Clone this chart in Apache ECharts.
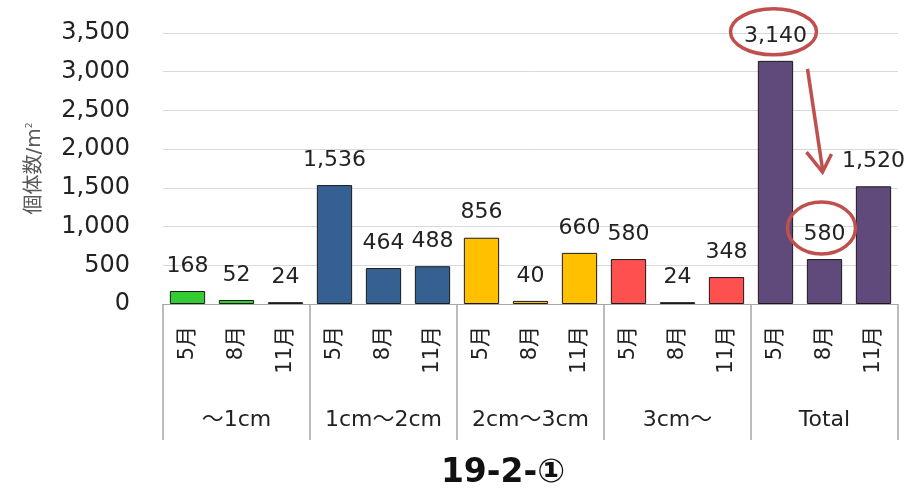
<!DOCTYPE html>
<html>
<head>
<meta charset="utf-8">
<script src="https://cdn.jsdelivr.net/npm/echarts@6/dist/echarts.min.js"></script>
<style>
  html, body { margin: 0; padding: 0; background: #fff; }
  #main { width: 911px; height: 492px; }
</style>
</head>
<body>
<div id="main"></div>
<script>
// data
var groups = ['～1cm', '1cm～2cm', '2cm～3cm', '3cm～', 'Total'];
var months = ['5月', '8月', '11月'];
var sizeA = [168, 52, 24];      // ～1cm
var sizeB = [1536, 464, 488];   // 1cm～2cm
var sizeC = [856, 40, 660];     // 2cm～3cm
var sizeD = [580, 24, 348];     // 3cm～
var total = [3140, 580, 1520];  // Total
var yTicks = [0, 500, 1000, 1500, 2000, 2500, 3000, 3500];

var colors = ['#33CC33', '#376092', '#FFC000', '#FF5050', '#604A7B'];
var font = '"DejaVu Sans", "Noto Sans CJK JP", sans-serif';

var allValues = [sizeA, sizeB, sizeC, sizeD, total];
var cats = [];
var barData = [];
for (var g = 0; g < groups.length; g++) {
    for (var m = 0; m < months.length; m++) {
        cats.push(groups[g] + '|' + months[m]);
        barData.push({
            value: allValues[g][m],
            itemStyle: { color: colors[g] }
        });
    }
}

var myChart = echarts.init(document.getElementById('main'));

var option = {
    animation: false,
    title: {
        text: '19-2-①',
        left: 498,
        textAlign: 'center',
        top: 452,
        textStyle: { fontFamily: font, fontSize: 33, fontWeight: 'bold', color: '#111' }
    },
    grid: { left: 163, right: 13, top: 33, bottom: 188 },
    xAxis: [
        {
            type: 'category',
            data: cats,
            axisLine: { lineStyle: { color: '#A6A6A6', width: 1 } },
            axisTick: { show: false },
            axisLabel: {
                rotate: 90,
                margin: 22,
                interval: 0,
                fontFamily: font,
                fontSize: 21,
                color: '#222',
                formatter: function (v) { return v.split('|')[1]; }
            }
        },
        {
            type: 'category',
            data: groups,
            position: 'bottom',
            offset: 0,
            axisLine: { show: false },
            axisTick: { show: true, length: 136, lineStyle: { color: '#A6A6A6', width: 1.5 } },
            axisLabel: {
                margin: 105,
                interval: 0,
                fontFamily: font,
                fontSize: 22,
                color: '#222'
            }
        }
    ],
    yAxis: {
        type: 'value',
        min: yTicks[0],
        max: yTicks[yTicks.length - 1],
        interval: 500,
        name: '{a|個体数/m}{b|2}',
        nameLocation: 'middle',
        nameGap: 118,
        nameTextStyle: {
            rich: {
                a: { fontFamily: font, fontSize: 20, color: '#595959' },
                b: { fontFamily: font, fontSize: 9, color: '#595959', verticalAlign: 'top', padding: [0, 0, 10, 0] }
            }
        },
        axisLine: { show: false },
        axisTick: { show: false },
        splitLine: { lineStyle: { color: '#D9D9D9', width: 1 } },
        axisLabel: {
            margin: 33,
            fontFamily: font,
            fontSize: 24,
            color: '#222',
            formatter: function (v) { return v.toLocaleString('en-US'); }
        }
    },
    series: [{
        type: 'bar',
        xAxisIndex: 0,
        data: barData,
        barCategoryGap: '28%',
        itemStyle: { borderColor: '#1a1a1a', borderWidth: 1 },
        label: {
            show: true,
            position: 'top',
            distance: 14,
            fontFamily: font,
            fontSize: 22,
            color: '#222',
            formatter: function (p) { return p.value.toLocaleString('en-US'); }
        }
    }]
};

myChart.setOption(option);

// red annotation: circle around 3,140 and 580 with arrow between
var p1 = myChart.convertToPixel({ xAxisIndex: 0, yAxisIndex: 0 }, [cats[12], total[0]]);
var p2 = myChart.convertToPixel({ xAxisIndex: 0, yAxisIndex: 0 }, [cats[13], total[1]]);
var red = '#C0504D';
var tip = [p2[0] - 2, p2[1] - 87];
myChart.setOption({
    graphic: [
        {
            type: 'ellipse',
            shape: { cx: p1[0] - 2, cy: p1[1] - 29, rx: 43, ry: 23 },
            style: { fill: 'none', stroke: red, lineWidth: 3.5 },
            z: 100
        },
        {
            type: 'ellipse',
            shape: { cx: p2[0] - 3, cy: p2[1] - 31, rx: 34, ry: 26 },
            style: { fill: 'none', stroke: red, lineWidth: 3.5 },
            z: 100
        },
        {
            type: 'line',
            shape: { x1: p1[0] + 32, y1: p1[1] + 8, x2: tip[0], y2: tip[1] - 3 },
            style: { stroke: red, lineWidth: 3.5 },
            z: 100
        },
        {
            type: 'polyline',
            shape: { points: [[tip[0] - 16, tip[1] - 20], tip, [tip[0] + 9, tip[1] - 18]] },
            style: { fill: 'none', stroke: red, lineWidth: 3.5, lineJoin: 'miter' },
            z: 100
        }
    ]
});
</script>
</body>
</html>
